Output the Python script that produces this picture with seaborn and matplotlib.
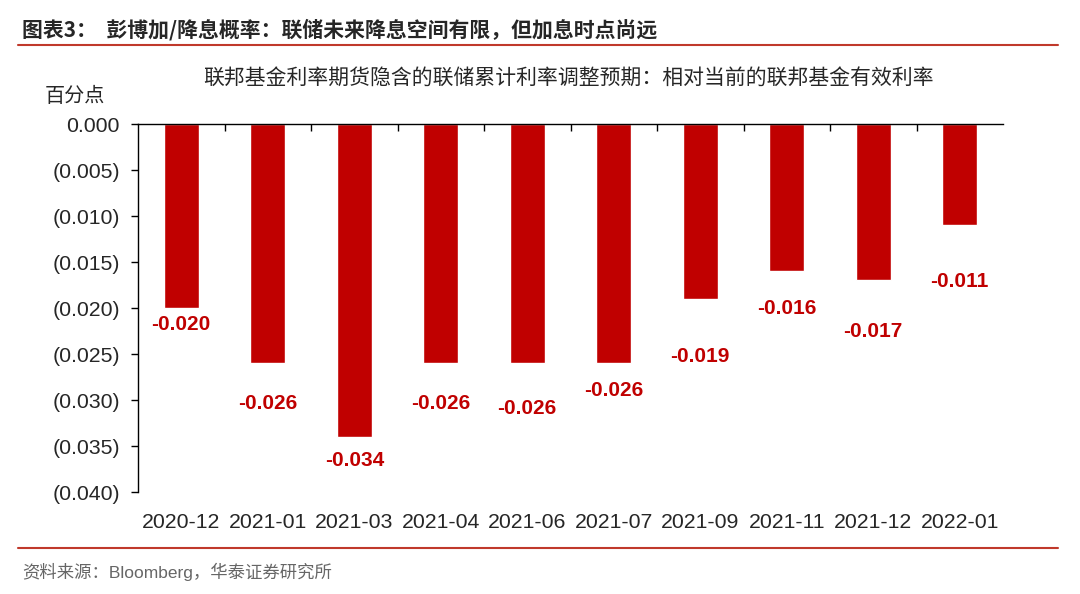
import matplotlib
matplotlib.use("Agg")
import matplotlib.pyplot as plt
import seaborn as sns
import pandas as pd
import numpy as np

categories = ["2020-12", "2021-01", "2021-03", "2021-04", "2021-06",
              "2021-07", "2021-09", "2021-11", "2021-12", "2022-01"]
values = [-0.020, -0.026, -0.034, -0.026, -0.026, -0.026, -0.019, -0.016, -0.017, -0.011]
ytick_values = [0.000, -0.005, -0.010, -0.015, -0.020, -0.025, -0.030, -0.035, -0.040]
ytick_labels = ["0.000", "(0.005)", "(0.010)", "(0.015)", "(0.020)", "(0.025)",
                "(0.030)", "(0.035)", "(0.040)"]

title = "图表3：  彭博加/降息概率：联储未来降息空间有限，但加息时点尚远"
subtitle = "联邦基金利率期货隐含的联储累计利率调整预期：相对当前的联邦基金有效利率"
unit = "百分点"
source = "资料来源：Bloomberg，华泰证券研究所"

# label placement (pixels below bar end, as in the reference's manual layout)
label_offsets_px = [16, 40, 24, 40, 45, 27, 58, 37, 51, 56]

sns.set_theme(style="white")
plt.rcParams['font.family'] = ['Liberation Sans', 'Noto Sans CJK SC', 'DejaVu Sans']
plt.rcParams['axes.unicode_minus'] = False

RED = "#C00000"
LINE_RED = "#C0392B"
CJK = ['Noto Sans CJK SC', 'DejaVu Sans']
df = pd.DataFrame({"cat": categories, "val": values})

fig = plt.figure(figsize=(10.8, 5.94), dpi=100)
ax = fig.add_axes([138/1080, 1 - 492/594, (1003-138)/1080, (492-124)/594])

sns.barplot(data=df, x="cat", y="val", color=RED, width=0.4, ax=ax, saturation=1)
ax.set_ylim(-0.040, 0.0)
ax.set_xlim(-0.5, len(categories) - 0.5)
ax.set_yticks(ytick_values)
ax.set_yticklabels(ytick_labels, fontsize=15.3)
ax.set_xlabel("")
ax.set_ylabel("")

for sp in ["right", "bottom"]:
    ax.spines[sp].set_visible(False)
ax.spines["left"].set_color("black")
ax.spines["left"].set_linewidth(1.0)
ax.spines["top"].set_color("black")
ax.spines["top"].set_linewidth(1.0)

ax.tick_params(axis="y", direction="out", length=5, width=1, color="black", left=True, pad=8)
ax.set_xticks(np.arange(len(categories)))
ax.set_xticklabels(categories)
ax.tick_params(axis="x", which="major", bottom=False, top=False, labelsize=15.3, pad=9)
ax.set_xticks(np.arange(len(categories) - 1) + 0.5, minor=True)
ax.tick_params(axis="x", which="minor", top=True, bottom=False, direction="in", length=5, width=1, color="black")

for i, v in enumerate(values):
    ax.annotate(f"{v:.3f}", (i, v), xytext=(0, -label_offsets_px[i]), textcoords="offset pixels",
                ha="center", va="center", color=RED, fontsize=15, fontweight="bold")

fig.text(22/1080, 1 - 30/594, title, fontsize=15, fontweight="bold", va="center", ha="left", family=CJK)
fig.add_artist(plt.Line2D([18/1080, 1058/1080], [1 - 45/594, 1 - 45/594], color=LINE_RED, lw=1.5))
fig.text(568/1080, 1 - 78/594, subtitle, fontsize=15, va="center", ha="center", family=CJK)
fig.text(75/1080, 1 - 96/594, unit, fontsize=14.5, va="center", ha="center", family=CJK)
fig.add_artist(plt.Line2D([18/1080, 1058/1080], [1 - 548/594, 1 - 548/594], color=LINE_RED, lw=1.5))
fig.text(22/1080, 1 - 572/594, source, fontsize=12.5, va="center", ha="left", color="#666666",
         family=['Liberation Sans', 'Noto Sans CJK SC', 'DejaVu Sans'])

fig.savefig("out.png", dpi=100)
